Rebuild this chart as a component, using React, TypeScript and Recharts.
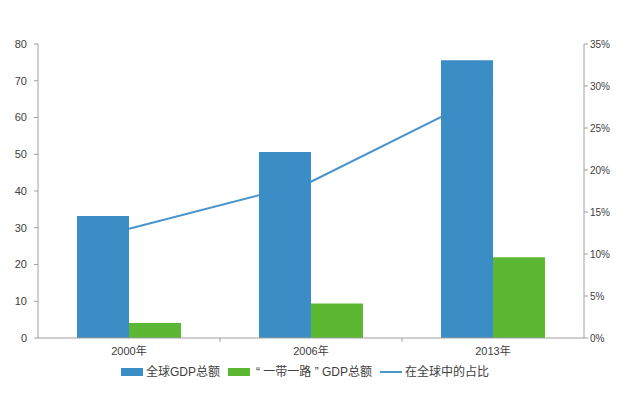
import { ComposedChart, Bar, Line, XAxis, YAxis, Legend } from 'recharts';

const years = ['2000年', '2006年', '2013年'];
const globalGdp = [33.2, 50.6, 75.6];
const beltRoadGdp = [4.1, 9.4, 22.0];
const sharePct = [13.0, 18.6, 29.4];

const leftTicks = [0, 10, 20, 30, 40, 50, 60, 70, 80];
const rightTicks = [0, 5, 10, 15, 20, 25, 30, 35];

const BLUE = '#3b8ec5';
const GREEN = '#5cb832';
const LINE_BLUE = '#4a93cb';
const AXIS = '#a0a0a0';
const TEXT = '#404040';
const FONT = '"Liberation Sans", "Noto Sans CJK SC", sans-serif';

const chartData = years.map((year, i) => ({
  year,
  global: globalGdp[i],
  beltRoad: beltRoadGdp[i],
  share: sharePct[i],
}));

// category ticks: label at centre, small tick mark at the left edge of each band
const CategoryTick = (props: any) => {
  const { x, y, payload, index } = props;
  const half = payload?.offset ?? 0;
  return (
    <g>
      {index > 0 && (
        <line x1={x - half} x2={x - half} y1={y - 8} y2={y - 4} stroke={AXIS} />
      )}
      <text x={x} y={y + 9} textAnchor="middle" fontSize={11} fill={TEXT} fontFamily={FONT}>
        {payload.value}
      </text>
    </g>
  );
};

const LegendBox = () => (
  <div
    style={{
      display: 'flex',
      justifyContent: 'center',
      alignItems: 'center',
      height: 16,
      lineHeight: '16px',
      fontSize: 12,
      color: TEXT,
      fontFamily: FONT,
      paddingRight: 14,
    }}
  >
    <span style={{ display: 'inline-block', width: 22, height: 8, background: BLUE, marginRight: 3 }} />
    <span style={{ marginRight: 8 }}>全球GDP总额</span>
    <span style={{ display: 'inline-block', width: 22, height: 8, background: GREEN, marginRight: 6 }} />
    <span style={{ marginRight: 8 }}>“ 一带一路 ” GDP总额</span>
    <span style={{ display: 'inline-block', width: 22, height: 2, background: LINE_BLUE, marginRight: 3 }} />
    <span>在全球中的占比</span>
  </div>
);

export default function App() {
  return (
    <div style={{ position: 'absolute', left: 0, top: 0, width: 642, height: 401, background: '#fff' }}>
      <ComposedChart
        width={642}
        height={401}
        data={chartData}
        margin={{ top: 44, right: 18, left: 0, bottom: 21 }}
        barGap={0}
        style={{ fontFamily: FONT }}
      >
        <XAxis
          dataKey="year"
          xAxisId="x"
          stroke={AXIS}
          tickLine={false}
          tick={<CategoryTick />}
          height={26}
        />
        <YAxis
          yAxisId="left"
          domain={[0, 80]}
          ticks={leftTicks}
          width={38}
          tickSize={4}
          tickMargin={7}
          stroke={AXIS}
          tick={{ fontSize: 11, fill: TEXT }}
          interval={0}
        />
        <YAxis
          yAxisId="right"
          orientation="right"
          domain={[0, 35]}
          ticks={rightTicks}
          width={40}
          tickSize={4}
          tickMargin={2}
          stroke={AXIS}
          tick={{ fontSize: 10, fill: TEXT }}
          tickFormatter={(v) => `${v}%`}
          interval={0}
        />
        <Legend verticalAlign="bottom" content={<LegendBox />} />
        <Line
          xAxisId="x"
          yAxisId="right"
          dataKey="share"
          name="在全球中的占比"
          stroke={LINE_BLUE}
          strokeWidth={2}
          dot={false}
          isAnimationActive={false}
          zIndex={200}
        />
        <Bar xAxisId="x" yAxisId="left" dataKey="global" name="全球GDP总额" fill={BLUE} barSize={52} isAnimationActive={false} />
        <Bar xAxisId="x" yAxisId="left" dataKey="beltRoad" name="“一带一路”GDP总额" fill={GREEN} barSize={52} isAnimationActive={false} />
      </ComposedChart>
    </div>
  );
}
